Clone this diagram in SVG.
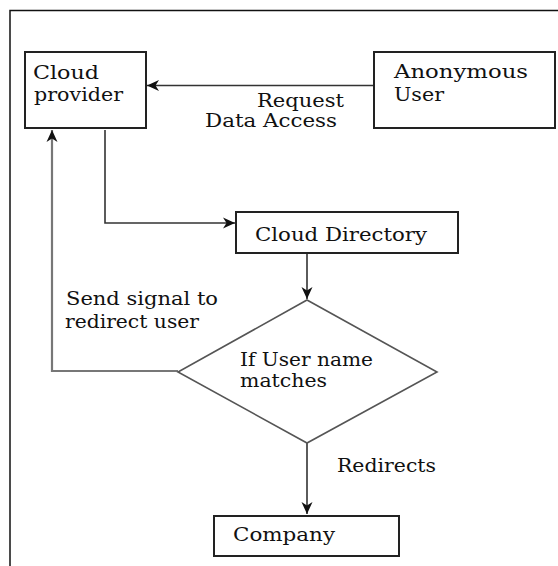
<svg xmlns="http://www.w3.org/2000/svg" width="558" height="566" viewBox="0 0 558 566">
  <style>
    .box { fill: #fff; stroke: #222; stroke-width: 2; }
    .diamond { fill: #fff; stroke: #555; stroke-width: 1.6; }
    .edge { fill: none; stroke: #333; stroke-width: 1.6; }
    .edge-gray { fill: none; stroke: #777; stroke-width: 2.2; }
    text { font-family: "DejaVu Serif", "Liberation Serif", serif; font-size: 18px; fill: #111; }
  </style>
  <defs>
    <marker id="arrow" viewBox="0 0 12 12" refX="12" refY="6" markerWidth="12" markerHeight="12" markerUnits="userSpaceOnUse" orient="auto">
      <path d="M0,0.5 L12,6 L0,11.5 L3.5,6 Z" fill="#111"/>
    </marker>
  </defs>

  <rect width="558" height="566" fill="#fff"/>

  <!-- outer frame: top and left edges only -->
  <path d="M10,566 V10.5 H558" fill="none" stroke="#111" stroke-width="1.5"/>

  <g id="connectors">
    <path class="edge" d="M374,85.5 H147" marker-end="url(#arrow)"/>
    <path class="edge" d="M105,130 V223 H235" marker-end="url(#arrow)"/>
    <path class="edge" d="M307,254 V299" marker-end="url(#arrow)"/>
    <path class="edge-gray" d="M178,371 H52 V130" marker-end="url(#arrow)"/>
    <path class="edge" d="M307,443 V514" marker-end="url(#arrow)"/>
    <text x="257" y="107" textLength="87" lengthAdjust="spacingAndGlyphs">Request</text>
    <text x="205" y="127" textLength="132" lengthAdjust="spacingAndGlyphs">Data Access</text>
    <text x="66" y="305" textLength="152" lengthAdjust="spacingAndGlyphs">Send signal to</text>
    <text x="65" y="328" textLength="134" lengthAdjust="spacingAndGlyphs">redirect user</text>
    <text x="337" y="472" textLength="99" lengthAdjust="spacingAndGlyphs">Redirects</text>
  </g>

  <g id="cloud-provider">
    <rect class="box" x="25" y="52" width="121" height="76"/>
    <text x="33" y="79" textLength="66" lengthAdjust="spacingAndGlyphs">Cloud</text>
    <text x="34" y="101" textLength="89" lengthAdjust="spacingAndGlyphs">provider</text>
  </g>

  <g id="anonymous-user">
    <rect class="box" x="374" y="52" width="181" height="76"/>
    <text x="394" y="78" textLength="134" lengthAdjust="spacingAndGlyphs">Anonymous</text>
    <text x="394" y="101" textLength="50" lengthAdjust="spacingAndGlyphs">User</text>
  </g>

  <g id="cloud-directory">
    <rect class="box" x="236" y="212" width="222" height="41"/>
    <text x="255" y="241" textLength="172" lengthAdjust="spacingAndGlyphs">Cloud Directory</text>
  </g>

  <g id="user-match">
    <polygon class="diamond" points="307,300 437,372 307,443 178,372"/>
    <text x="240" y="366" textLength="133" lengthAdjust="spacingAndGlyphs">If User name</text>
    <text x="240" y="387" textLength="87" lengthAdjust="spacingAndGlyphs">matches</text>
  </g>

  <g id="company">
    <rect class="box" x="214" y="516" width="185" height="40"/>
    <text x="233" y="541" textLength="102" lengthAdjust="spacingAndGlyphs">Company</text>
  </g>
</svg>
